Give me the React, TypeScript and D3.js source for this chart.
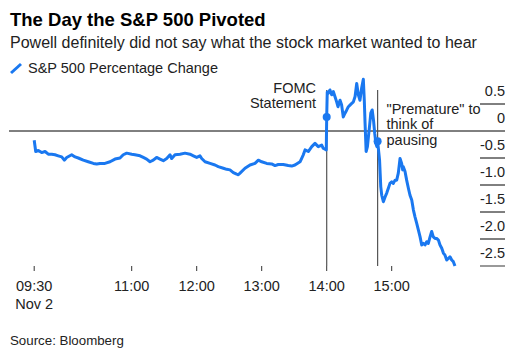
import React from "react";
import * as d3 from "d3";

// minutes since 09:30 on Nov 2
const minutes = [
  0, 1.4, 3.8, 6.9, 10, 13, 16.2, 19.2, 22.2, 25.4, 27.8, 30, 34.6, 37.7, 40.7, 45.3, 49.9, 54.6, 57.7, 60.7,
  65.3, 70, 74.6, 79.2, 82.2, 85.4, 90, 93, 97.7, 100.7, 103.8, 106.9, 109.9, 113, 116.1, 119.2, 122.3, 125.4, 126.9, 130,
  134.6, 139.2, 143.8, 146.9, 150, 153, 154.6, 157.7, 162.3, 166.9, 169.9, 174.6, 177.7, 180.7, 183.8, 186.9, 188.4, 190, 194.6, 199.2,
  203.8, 206.9, 210, 214.6, 219.2, 222.3, 225.3, 229.9, 234.5, 237.7, 240.7, 245.4, 248.4, 250, 253, 256.2, 259.2, 262.2, 265.4, 266.8,
  269.6, 270, 270.5, 271.5, 273, 274.6, 276.1, 277.6, 279.2, 280.4, 282.3, 283.8, 285.3, 286.9, 288.5, 290, 291.5, 293.1, 294.6, 296.2,
  297.7, 299.2, 300.7, 302.3, 303.8, 304.7, 305.4, 306.4, 307.6, 308.5, 309.5, 310.7, 312, 313.2, 314.3, 315.4, 316.3, 317, 318.8, 319.9,
  320.8, 322.3, 323.9, 325.4, 326.9, 328.4, 330, 331.5, 333.1, 334.6, 336.1, 337.7, 339.2, 340.1, 340.7, 342.3, 343.8, 345.4, 346.9, 348.5,
  350, 351.5, 353.1, 354.6, 356.2, 357.7, 359.2, 360.8, 362.3, 363.8, 365.4, 366.9, 368.4, 370, 371.5, 373.1, 374.6, 376.2, 377.7, 379.2,
  380.8, 382.3, 383.8, 385.4, 386.9, 388.4,
];
const pctChange = [
  -0.17, -0.38, -0.36, -0.4, -0.38, -0.43, -0.43, -0.44, -0.46, -0.48, -0.54, -0.49, -0.44, -0.48, -0.5, -0.54, -0.57, -0.6, -0.61, -0.6,
  -0.6, -0.57, -0.52, -0.5, -0.44, -0.41, -0.43, -0.44, -0.46, -0.49, -0.52, -0.57, -0.54, -0.49, -0.52, -0.55, -0.51, -0.44, -0.51, -0.44,
  -0.43, -0.41, -0.43, -0.46, -0.49, -0.46, -0.51, -0.57, -0.6, -0.63, -0.66, -0.69, -0.71, -0.72, -0.77, -0.8, -0.81, -0.78, -0.69, -0.63,
  -0.6, -0.54, -0.57, -0.6, -0.61, -0.64, -0.62, -0.62, -0.64, -0.65, -0.63, -0.57, -0.44, -0.35, -0.38, -0.29, -0.23, -0.29, -0.26, -0.32,
  -0.35, 0.26, 0.72, 0.7, 0.76, 0.67, 0.73, 0.64, 0.54, 0.45, 0.57, 0.48, 0.26, 0.33, 0.39, 0.45, 0.48, 0.51, 0.54, 0.64,
  0.88, 0.67, 0.57, 0.8, 0.96, 0.57, 0.15, -0.38, -0.29, -0.11, 0.08, 0.33, 0.39, 0.2, -0.04, -0.23, -0.29, -0.19, -0.54, -1.03,
  -1.19, -1.31, -1.22, -1.15, -1.06, -0.97, -0.94, -0.97, -0.91, -0.91, -0.78, -0.51, -0.6, -0.72, -0.66, -0.75, -0.91, -1.06, -1.19, -1.28,
  -1.46, -1.59, -1.71, -1.83, -1.96, -2.11, -2.08, -2.11, -2.05, -2.08, -1.96, -1.86, -1.96, -1.99, -1.99, -2.02, -2.11, -2.17, -2.26, -2.3,
  -2.39, -2.36, -2.33, -2.39, -2.42, -2.5,
];

const xTickMinutes = [0, 90, 150, 210, 270, 330];
const xTickLabels = ["09:30", "11:00", "12:00", "13:00", "14:00", "15:00"];
const yTicks = [0.5, 0, -0.5, -1, -1.5, -2, -2.5];
const yTickLabels = ["0.5", "0", "-0.5", "-1.0", "-1.5", "-2.0", "-2.5"];
const eventMinutes = [270, 317];
const eventLabels = [["FOMC", "Statement"], ['"Premature" to', "think of", "pausing"]];

const title = "The Day the S&P 500 Pivoted";
const subtitle = "Powell definitely did not say what the stock market wanted to hear";
const seriesName = "S&P 500 Percentage Change";
const source = "Source: Bloomberg";

const BLUE = "#1a78f0";
const FONT = "'Liberation Sans', Arial, sans-serif";

export default function App() {
  const W = 514, H = 355;
  const x = d3.scaleLinear().domain([0, 390]).range([34.2, 456.7]);
  const y = d3.scaleLinear().domain([-2.5, 1]).range([266, 77]);
  const data = minutes.map((m, i) => [m, pctChange[i]] as [number, number]);
  const line = d3.line<[number, number]>().x((d) => x(d[0])).y((d) => y(d[1]));
  const valAt = (m: number) => {
    const i = minutes.indexOf(m);
    return pctChange[i];
  };

  return (
    <svg width={W} height={H} style={{ position: "absolute", left: 0, top: 0, background: "#fff" }} fontFamily={FONT}>
      <text x={10} y={26} fontSize={18.5} fontWeight="bold" fill="#000">{title}</text>
      <text x={10} y={48} fontSize={16} fill="#222">{subtitle}</text>
      <line x1={11} y1={73} x2={21} y2={64} stroke={BLUE} strokeWidth={3} />
      <text x={28} y={73} fontSize={14.5} fill="#222">{seriesName}</text>

      {yTicks.map((t, i) => (
        <g key={t}>
          {t === 0 ? (
            <line x1={9} x2={505} y1={y(t)} y2={y(t)} stroke="#000" strokeWidth={1} />
          ) : (
            <line x1={480} x2={505} y1={y(t)} y2={y(t)} stroke={t === -2.5 ? "#999" : "#000"} strokeWidth={t === -2.5 ? 2 : 1} />
          )}
          <text x={505} y={y(t) - 8} textAnchor="end" fontSize={14.5} fill="#222">{yTickLabels[i]}</text>
        </g>
      ))}

      {xTickMinutes.map((m, i) => (
        <g key={m}>
          <line x1={x(m)} x2={x(m)} y1={266} y2={271} stroke="#333" strokeWidth={1} />
          <text x={x(m)} y={291} textAnchor="middle" fontSize={14.5} fill="#222">{xTickLabels[i]}</text>
        </g>
      ))}
      <text x={x(0)} y={309} textAnchor="middle" fontSize={14.5} fill="#222">Nov 2</text>

      {eventMinutes.map((m) => (
        <line key={m} x1={x(m)} x2={x(m)} y1={90} y2={266} stroke="#555" strokeWidth={1.2} />
      ))}

      <path d={line(data) || ""} fill="none" stroke={BLUE} strokeWidth={3} strokeLinejoin="round" />

      {eventMinutes.map((m) => (
        <circle key={m} cx={x(m)} cy={y(valAt(m))} r={4} fill={BLUE} />
      ))}

      <text x={316} y={92.5} textAnchor="end" fontSize={14.5} fill="#222">
        {eventLabels[0].map((l, i) => (
          <tspan key={i} x={316} dy={i === 0 ? 0 : 15.5}>{l}</tspan>
        ))}
      </text>
      <text x={386.5} y={113.5} fontSize={14.5} fill="#222">
        {eventLabels[1].map((l, i) => (
          <tspan key={i} x={386.5} dy={i === 0 ? 0 : 15.5}>{l}</tspan>
        ))}
      </text>

      <text x={10} y={345} fontSize={13.3} fill="#222">{source}</text>
    </svg>
  );
}
